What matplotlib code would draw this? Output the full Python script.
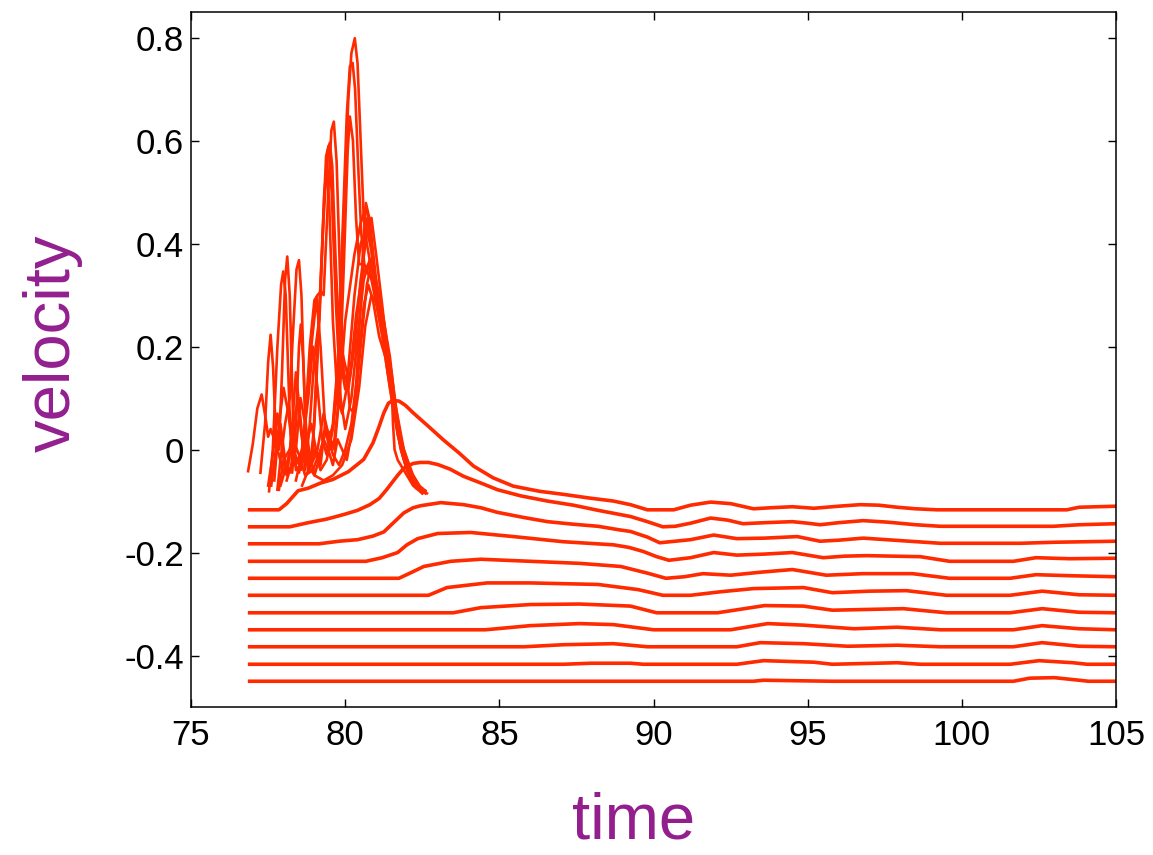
import matplotlib
matplotlib.use('Agg')
import matplotlib.pyplot as plt

red = '#FF2A00'
purple = '#931F8F'

# lower family: flat baselines that pick up a bump later on
L1x = [76.9, 77.85, 78.1, 78.47, 78.8, 79.2, 79.6, 80.1, 80.6, 80.9, 81.1, 81.25, 81.4, 81.56, 81.75, 81.95, 82.21,
       82.7, 83.18, 83.7, 84.16, 84.8, 85.45, 86.3, 87.08, 87.9, 88.7, 89.25, 89.8, 90.65, 91.2, 91.85, 92.5, 93.24,
       93.8, 94.5, 95.2, 96.0, 96.7, 97.3, 97.9, 98.5, 99.2, 103.4, 103.8, 105]
L1y = [-0.117, -0.117, -0.105, -0.08, -0.075, -0.065, -0.058, -0.043, -0.019, 0.013, 0.045, 0.071, 0.09, 0.096,
       0.094, 0.086, 0.071, 0.045, 0.019, -0.007, -0.032, -0.055, -0.071, -0.081, -0.087, -0.094, -0.1, -0.107,
       -0.117, -0.117, -0.108, -0.102, -0.105, -0.115, -0.113, -0.111, -0.114, -0.11, -0.107, -0.108, -0.112,
       -0.115, -0.117, -0.117, -0.112, -0.11]

L2x = [76.9, 78.2, 78.8, 79.4, 79.96, 80.4, 80.8, 81.1, 81.34, 81.7, 81.9, 82.2, 82.43, 82.7, 83.0, 83.4, 83.84,
       84.4, 84.94, 85.7, 86.56, 87.4, 88.2, 88.9, 89.25, 89.8, 90.3, 90.7, 91.2, 91.85, 92.4, 92.9, 93.6, 94.5,
       95.0, 95.4, 96.0, 96.8, 97.6, 98.5, 99.3, 102.96, 103.8, 105]
L2y = [-0.15, -0.15, -0.142, -0.135, -0.126, -0.118, -0.107, -0.095, -0.078, -0.05, -0.036, -0.027, -0.025,
       -0.025, -0.029, -0.038, -0.052, -0.065, -0.078, -0.09, -0.1, -0.108, -0.118, -0.126, -0.13, -0.14, -0.15,
       -0.149, -0.143, -0.133, -0.137, -0.144, -0.142, -0.14, -0.143, -0.146, -0.142, -0.138, -0.141, -0.146,
       -0.149, -0.149, -0.146, -0.144]

L3x = [76.9, 79.15, 79.8, 80.4, 80.9, 81.25, 81.6, 81.9, 82.2, 82.45, 83.1, 83.84, 84.4, 84.94, 85.8, 86.56, 87.4,
       88.2, 88.9, 89.25, 89.8, 90.2, 90.7, 91.2, 91.95, 92.7, 93.6, 94.66, 95.4, 96.0, 96.8, 97.8, 99.3, 101.9,
       103.0, 105]
L3y = [-0.183, -0.183, -0.178, -0.175, -0.168, -0.16, -0.14, -0.123, -0.113, -0.109, -0.103, -0.107, -0.113,
       -0.122, -0.132, -0.14, -0.145, -0.149, -0.156, -0.159, -0.17, -0.181, -0.178, -0.175, -0.166, -0.173,
       -0.172, -0.169, -0.178, -0.176, -0.172, -0.176, -0.182, -0.182, -0.18, -0.178]

L4x = [76.9, 80.67, 81.2, 81.7, 82.0, 82.35, 83.0, 84.07, 85.46, 87.08, 88.7, 89.2, 89.67, 90.1, 90.5, 91.2, 91.95,
       92.7, 93.6, 94.5, 95.0, 95.5, 96.2, 96.9, 98.65, 99.6, 101.67, 102.4, 103.5, 105]
L4y = [-0.217, -0.217, -0.21, -0.2, -0.185, -0.173, -0.163, -0.161, -0.169, -0.179, -0.185, -0.19, -0.198, -0.208,
       -0.215, -0.21, -0.2, -0.205, -0.203, -0.2, -0.205, -0.21, -0.207, -0.206, -0.208, -0.217, -0.217, -0.21,
       -0.212, -0.211]

L5x = [76.9, 81.74, 82.1, 82.55, 83.42, 84.4, 86.0, 87.6, 88.93, 89.8, 90.4, 91.0, 91.6, 92.5, 93.5, 94.5, 95.0,
       95.6, 96.8, 98.4, 99.6, 101.56, 102.4, 103.5, 105]
L5y = [-0.25, -0.25, -0.24, -0.227, -0.217, -0.213, -0.217, -0.221, -0.227, -0.24, -0.25, -0.247, -0.241, -0.244,
       -0.238, -0.233, -0.238, -0.244, -0.241, -0.241, -0.25, -0.25, -0.243, -0.245, -0.247]

L6x = [76.9, 82.7, 83.3, 84.6, 86.0, 88.2, 89.5, 90.3, 91.2, 92.2, 93.24, 94.86, 95.8, 97.0, 98.2, 99.5, 101.56,
       102.6, 103.8, 105]
L6y = [-0.283, -0.283, -0.268, -0.259, -0.259, -0.262, -0.272, -0.283, -0.283, -0.276, -0.27, -0.268, -0.278,
       -0.275, -0.274, -0.283, -0.283, -0.275, -0.282, -0.283]

L7x = [76.9, 83.5, 84.4, 86.0, 87.6, 89.25, 90.1, 92.07, 93.6, 94.86, 95.8, 98.1, 99.5, 101.56, 102.6, 103.8, 105]
L7y = [-0.317, -0.317, -0.307, -0.301, -0.3, -0.304, -0.317, -0.317, -0.303, -0.304, -0.312, -0.309, -0.317,
       -0.317, -0.309, -0.316, -0.317]

L8x = [76.9, 84.55, 86.0, 87.6, 88.7, 90.0, 92.5, 93.7, 94.86, 96.5, 97.9, 99.3, 101.67, 102.6, 103.8, 105]
L8y = [-0.35, -0.35, -0.342, -0.338, -0.34, -0.35, -0.35, -0.338, -0.341, -0.348, -0.345, -0.35, -0.35, -0.342,
       -0.348, -0.35]

L9x = [76.9, 85.8, 87.08, 88.7, 89.8, 92.7, 93.46, 94.86, 96.3, 97.9, 99.3, 101.67, 102.6, 103.8, 105]
L9y = [-0.383, -0.383, -0.379, -0.377, -0.383, -0.383, -0.375, -0.377, -0.382, -0.38, -0.383, -0.383, -0.375,
       -0.382, -0.383]

L10x = [76.9, 87.08, 87.96, 89.25, 89.67, 92.7, 93.56, 95.2, 95.8, 97.9, 98.65, 101.56, 102.5, 103.6, 104.06, 105]
L10y = [-0.417, -0.417, -0.415, -0.415, -0.417, -0.417, -0.41, -0.413, -0.417, -0.414, -0.417, -0.417, -0.41,
        -0.414, -0.417, -0.417]

L11x = [76.9, 93.24, 93.56, 94.66, 95.8, 101.67, 102.2, 103.0, 103.8, 104.1, 105]
L11y = [-0.45, -0.45, -0.448, -0.449, -0.45, -0.45, -0.444, -0.443, -0.448, -0.45, -0.45]

# upper family: oscillating traces ending near (82.5, -0.08)
U1x = [76.85, 77.0, 77.15, 77.29, 77.42, 77.5, 77.58, 77.7, 77.85, 78.0, 78.15, 78.3, 78.45, 78.6, 78.8, 79.0,
       79.3, 79.6, 79.9, 80.2, 80.45, 80.65, 80.85, 81.05, 81.3, 81.55, 81.8, 82.1, 82.45]
U1y = [-0.042, 0.01, 0.08, 0.107, 0.06, 0.025, 0.04, 0.02, -0.01, -0.045, -0.03, 0.05, 0.09, 0.02, -0.03, -0.05,
       -0.06, -0.05, -0.03, 0.02, 0.12, 0.24, 0.3, 0.28, 0.2, 0.1, 0.01, -0.05, -0.08]

U2x = [77.25, 77.4, 77.5, 77.58, 77.66, 77.75, 77.85, 77.95, 78.05, 78.12, 78.2, 78.3, 78.4, 78.55, 78.7, 78.9,
       79.07, 79.2, 79.35, 79.5, 79.65, 79.8, 80.0, 80.3, 80.5, 80.67, 80.8, 81.0, 81.2, 81.5, 81.8, 82.1, 82.4,
       82.6]
U2y = [-0.045, 0.05, 0.17, 0.223, 0.16, 0.03, 0.0, 0.15, 0.33, 0.375, 0.3, 0.08, -0.04, -0.03, 0.06, 0.2, 0.295,
       0.2, 0.04, 0.0, 0.02, 0.1, 0.25, 0.38, 0.44, 0.47, 0.44, 0.33, 0.24, 0.12, 0.02, -0.04, -0.07, -0.08]

U3x = [77.53, 77.65, 77.8, 77.92, 77.99, 78.07, 78.18, 78.28, 78.4, 78.5, 78.56, 78.64, 78.75, 78.85, 79.0, 79.2,
       79.32, 79.4, 79.48, 79.6, 79.75, 79.9, 80.05, 80.3, 80.5, 80.7, 80.9, 81.1, 81.4, 81.7, 82.0, 82.3, 82.55]
U3y = [-0.081, 0.0, 0.2, 0.32, 0.346, 0.3, 0.1, -0.045, 0.05, 0.2, 0.243, 0.17, 0.0, -0.04, 0.05, 0.3, 0.5, 0.544,
       0.48, 0.25, 0.1, 0.07, 0.12, 0.3, 0.4, 0.43, 0.37, 0.27, 0.15, 0.05, -0.03, -0.07, -0.08]

U4x = [77.8, 77.9, 78.05, 78.2, 78.3, 78.42, 78.5, 78.58, 78.68, 78.8, 78.95, 79.1, 79.3, 79.43, 79.5, 79.58, 79.7,
       79.85, 80.0, 80.15, 80.35, 80.55, 80.75, 80.95, 81.2, 81.45, 81.7, 82.0, 82.3, 82.6]
U4y = [-0.078, -0.02, 0.05, 0.1, 0.22, 0.35, 0.368, 0.3, 0.1, -0.04, 0.0, 0.2, 0.45, 0.58, 0.596, 0.55, 0.35, 0.17,
       0.117, 0.14, 0.26, 0.34, 0.36, 0.3, 0.22, 0.12, 0.04, -0.04, -0.075, -0.08]

U5x = [77.7, 77.85, 78.0, 78.15, 78.3, 78.45, 78.58, 78.7, 78.85, 79.0, 79.1, 79.21, 79.3, 79.45, 79.55, 79.63,
       79.72, 79.85, 79.95, 80.1, 80.3, 80.5, 80.7, 80.85, 81.0, 81.2, 81.35, 81.5, 81.65, 81.9, 82.2, 82.5]
U5y = [-0.06, 0.05, 0.12, 0.072, 0.0, -0.02, -0.039, 0.05, 0.2, 0.29, 0.3, 0.307, 0.3, 0.5, 0.62, 0.637, 0.56,
       0.3, 0.15, 0.117, 0.2, 0.33, 0.42, 0.45, 0.38, 0.28, 0.2, 0.15, 0.08, 0.0, -0.05, -0.08]

U6x = [77.85, 78.0, 78.2, 78.4, 78.6, 78.8, 78.95, 79.1, 79.25, 79.4, 79.6, 79.8, 79.95, 80.1, 80.2, 80.31, 80.4,
       80.5, 80.6, 80.7, 80.85, 81.0, 81.2, 81.4, 81.55, 81.7, 81.9, 82.2, 82.5]
U6y = [-0.078, -0.02, 0.0, -0.03, 0.0, 0.1, 0.2, 0.12, 0.02, -0.01, 0.05, 0.2, 0.45, 0.68, 0.77, 0.799, 0.75, 0.6,
       0.45, 0.4, 0.35, 0.3, 0.25, 0.18, 0.1, 0.03, -0.02, -0.06, -0.08]

U7x = [77.6, 77.75, 77.9, 78.05, 78.2, 78.4, 78.55, 78.7, 78.9, 79.1, 79.3, 79.45, 79.6, 79.75, 79.9, 80.05, 80.15,
       80.24, 80.32, 80.42, 80.52, 80.62, 80.75, 80.9, 81.05, 81.25, 81.45, 81.6, 81.8, 82.05, 82.35, 82.6]
U7y = [-0.07, 0.0, 0.05, -0.02, -0.045, 0.0, 0.1, 0.05, -0.03, 0.0, 0.07, 0.03, 0.04, 0.15, 0.4, 0.65, 0.744,
       0.751, 0.7, 0.55, 0.42, 0.36, 0.34, 0.33, 0.3, 0.25, 0.18, 0.1, 0.02, -0.04, -0.075, -0.085]

U8x = [78.1, 78.3, 78.5, 78.7, 78.9, 79.05, 79.2, 79.35, 79.5, 79.65, 79.8, 79.95, 80.08, 80.15, 80.25, 80.35,
       80.45, 80.55, 80.67, 80.78, 80.9, 81.05, 81.25, 81.45, 81.6, 81.8, 82.1, 82.45]
U8y = [-0.06, -0.02, -0.045, 0.0, 0.05, 0.0, -0.03, 0.05, 0.02, 0.0, 0.1, 0.35, 0.58, 0.647, 0.6, 0.45, 0.36, 0.36,
       0.479, 0.45, 0.35, 0.3, 0.23, 0.15, 0.07, 0.0, -0.05, -0.08]

U9x = [78.6, 78.8, 79.0, 79.2, 79.4, 79.6, 79.75, 79.9, 80.05, 80.15, 80.3, 80.5, 80.7, 80.85, 81.0, 81.2, 81.35,
       81.5, 81.55, 81.6, 81.7, 81.9, 82.2, 82.5]
U9y = [-0.07, -0.04, 0.0, -0.04, -0.02, 0.04, 0.12, 0.19, 0.15, 0.08, 0.07, 0.2, 0.32, 0.36, 0.33, 0.27, 0.21,
       0.13, 0.05, 0.0, -0.02, -0.04, -0.07, -0.085]

U10x = [77.9, 78.1, 78.3, 78.5, 78.7, 78.95, 79.2, 79.4, 79.6, 79.8, 80.0, 80.2, 80.4, 80.6, 80.75, 80.9, 81.1,
        81.3, 81.5, 81.7, 81.95, 82.3, 82.65]
U10y = [-0.07, -0.03, 0.02, -0.01, -0.05, -0.04, 0.0, 0.04, -0.01, -0.03, 0.0, 0.05, 0.15, 0.28, 0.32, 0.29, 0.22,
        0.18, 0.1, 0.03, -0.03, -0.07, -0.085]

U11x = [77.5, 77.65, 77.8, 77.95, 78.1, 78.25, 78.4, 78.55, 78.7, 78.85, 79.0, 79.15, 79.28, 79.38, 79.46, 79.56,
        79.7, 79.85, 80.0, 80.2, 80.4, 80.6, 80.8, 80.95, 81.15, 81.35, 81.6, 81.85, 82.15, 82.5]
U11y = [-0.07, -0.01, 0.07, 0.0, -0.05, 0.02, 0.15, 0.06, -0.04, 0.05, 0.18, 0.25, 0.44, 0.57, 0.59, 0.5, 0.28,
        0.1, 0.04, 0.1, 0.22, 0.33, 0.37, 0.34, 0.26, 0.18, 0.08, -0.01, -0.06, -0.085]

U12x = [78.4, 78.55, 78.7, 78.85, 79.0, 79.15, 79.3, 79.45, 79.6, 79.75, 79.9, 80.05, 80.2, 80.35, 80.5, 80.62,
        80.72, 80.82, 80.95, 81.1, 81.3, 81.5, 81.7, 81.95, 82.25, 82.55]
U12y = [-0.06, -0.02, 0.03, -0.01, -0.05, -0.02, 0.02, 0.0, -0.03, 0.02, 0.0, -0.02, 0.03, 0.12, 0.28, 0.4, 0.45,
        0.42, 0.34, 0.28, 0.2, 0.12, 0.04, -0.03, -0.07, -0.08]

lower = [(L1x, L1y), (L2x, L2y), (L3x, L3y), (L4x, L4y), (L5x, L5y), (L6x, L6y),
         (L7x, L7y), (L8x, L8y), (L9x, L9y), (L10x, L10y), (L11x, L11y)]
upper = [(U1x, U1y), (U2x, U2y), (U3x, U3y), (U4x, U4y), (U5x, U5y), (U6x, U6y),
         (U7x, U7y), (U8x, U8y), (U9x, U9y), (U10x, U10y), (U11x, U11y), (U12x, U12y)]

plt.rcParams['font.family'] = ['Liberation Sans', 'DejaVu Sans']

fig = plt.figure(figsize=(11.53, 8.55), dpi=100)
ax = fig.add_axes([0.1657, 0.1731, 0.8023, 0.8129])

for xs, ys in upper:
    ax.plot(xs, ys, color=red, linewidth=1.9, solid_joinstyle='round')
for xs, ys in lower:
    ax.plot(xs, ys, color=red, linewidth=2.6, solid_joinstyle='round')

ax.set_xlim(75, 105)
ax.set_ylim(-0.5, 0.85)
ax.set_xticks([75, 80, 85, 90, 95, 100, 105])
ax.set_yticks([-0.4, -0.2, 0, 0.2, 0.4, 0.6, 0.8])
ax.set_yticklabels(['-0.4', '-0.2', '0', '0.2', '0.4', '0.6', '0.8'])
ax.tick_params(direction='in', length=6, width=1, labelsize=25, top=True, right=True)
ax.tick_params(axis='x', pad=9)
ax.tick_params(axis='y', pad=5)
for s in ax.spines.values():
    s.set_linewidth(1.1)

fig.text(634 / 1153, 0.004, 'time', color=purple, fontsize=47, ha='center', va='bottom')
fig.text(53 / 1153, 0.599, 'velocity', color=purple, fontsize=47, rotation=90, ha='center', va='center')

fig.savefig('out.png', dpi=100)
